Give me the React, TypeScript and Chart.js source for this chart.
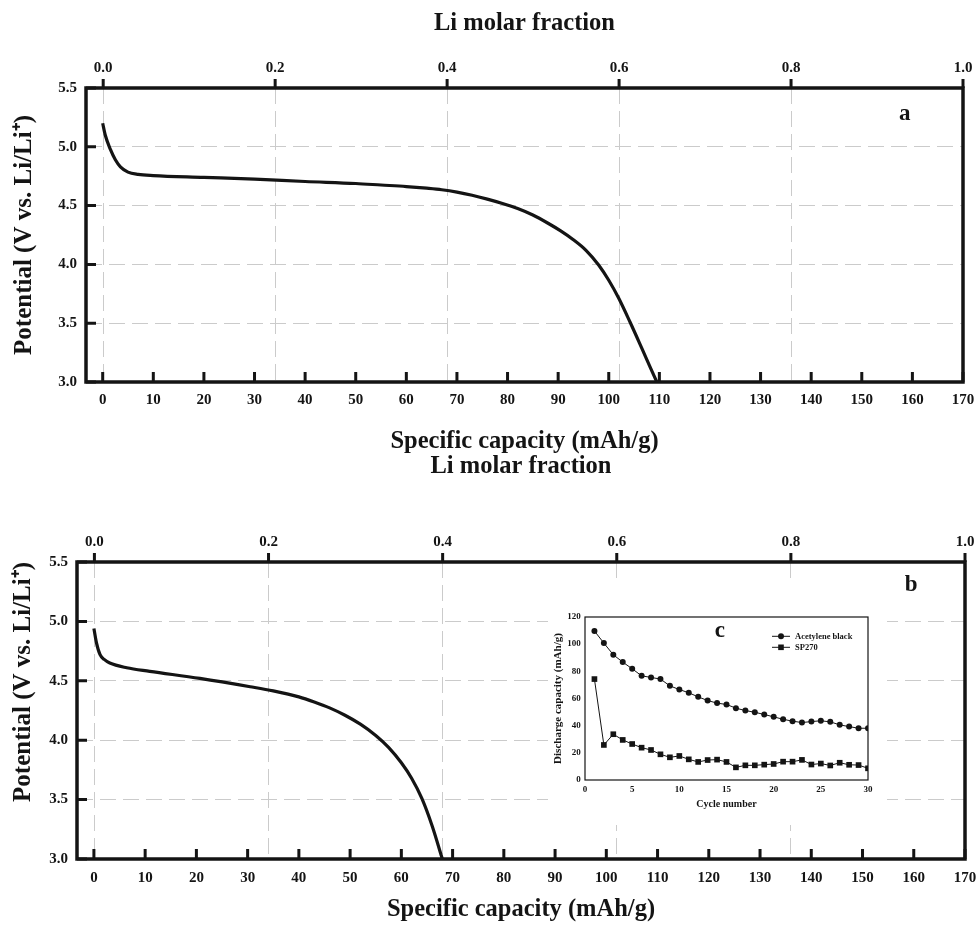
import React, { useEffect, useRef } from "react";
import { Chart, registerables } from "chart.js";

Chart.register(...registerables);

// ---------------- data ----------------
const capacityTicks = [0, 10, 20, 30, 40, 50, 60, 70, 80, 90, 100, 110, 120, 130, 140, 150, 160, 170];
const fractionTicks = [0, 0.2, 0.4, 0.6, 0.8, 1.0];
const potentialTicks = [3.0, 3.5, 4.0, 4.5, 5.0, 5.5];

// panel a : discharge curve
const capacityA = [0, 0.5, 1.5, 2.5, 3.5, 5, 7, 10, 20, 30, 40, 50, 55, 60, 64, 67, 70, 73, 76, 79, 82, 85, 88, 90.5, 93, 95.5, 98, 100, 102, 104.2, 106.5, 108.2, 109.5];
const potentialA = [5.2, 5.1, 4.98, 4.89, 4.83, 4.785, 4.765, 4.755, 4.74, 4.725, 4.705, 4.688, 4.675, 4.662, 4.648, 4.635, 4.615, 4.588, 4.555, 4.518, 4.475, 4.42, 4.35, 4.285, 4.21, 4.12, 3.995, 3.865, 3.71, 3.51, 3.29, 3.125, 3.0];

// panel b : discharge curve
const capacityB = [0, 0.5, 1.2, 2, 3.1, 6.4, 10.9, 20.7, 30.5, 35, 40, 43, 46, 49, 52, 55, 57.5, 60, 62, 64, 66, 68];
const potentialB = [4.94, 4.82, 4.72, 4.68, 4.65, 4.61, 4.58, 4.52, 4.45, 4.415, 4.365, 4.322, 4.272, 4.21, 4.135, 4.04, 3.94, 3.81, 3.68, 3.51, 3.28, 3.0];

// inset c : cycling
const cycleTicks = [0, 5, 10, 15, 20, 25, 30];
const dischargeTicks = [0, 20, 40, 60, 80, 100, 120];
const cycles = [1, 2, 3, 4, 5, 6, 7, 8, 9, 10, 11, 12, 13, 14, 15, 16, 17, 18, 19, 20, 21, 22, 23, 24, 25, 26, 27, 28, 29, 30];
const acetyleneBlack = [109.7, 100.8, 92.2, 86.8, 81.9, 76.7, 75.5, 74.3, 69.3, 66.6, 64.2, 61.2, 58.5, 56.6, 55.6, 52.9, 51.1, 49.9, 48.2, 46.5, 44.7, 43.3, 42.3, 43.0, 43.6, 42.8, 40.6, 39.3, 38.1, 38.1];
const sp270 = [74.3, 25.8, 33.7, 29.5, 26.5, 23.8, 22.1, 18.9, 16.7, 17.7, 15.2, 13.3, 14.7, 15.0, 13.3, 9.3, 10.8, 10.8, 11.3, 11.8, 13.5, 13.5, 14.8, 11.4, 12.1, 10.7, 12.7, 11.2, 11.0, 8.6];

// ---------------- styles ----------------
const SERIF = "'Liberation Serif', 'Times New Roman', Times, serif";
const INK = "#141414";
const GRID = "#cbcbcb";
const GRID_DASH = [16, 7];

const tickFont = { family: SERIF, size: 15, weight: "bold" as const };
const titleFont = { family: SERIF, size: 24.5, weight: "bold" as const };
const yTitleFont = { family: SERIF, size: 25, weight: "bold" as const };

const setTicks = (values: number[]) => (scale: any) => {
  scale.ticks = values.map((v) => ({ value: v }));
};

// frame, inward/outward ticks and panel letter
const decorPlugin = {
  id: "decor",
  afterDraw(chart: any, _args: any, opts: any) {
    const { ctx, chartArea } = chart;
    const { left, top, right, bottom } = chartArea;
    const bx = chart.scales.x;
    const tx = chart.scales.x2;
    const ly = chart.scales.y;
    ctx.save();
    ctx.strokeStyle = INK;
    ctx.lineCap = "butt";
    ctx.lineWidth = opts.tickWidth;
    ctx.beginPath();
    bx.ticks.forEach((t: any) => {
      const p = bx.getPixelForValue(t.value);
      ctx.moveTo(p, bottom);
      ctx.lineTo(p, bottom - opts.innerTick);
    });
    ly.ticks.forEach((t: any) => {
      const p = ly.getPixelForValue(t.value);
      ctx.moveTo(left, p);
      ctx.lineTo(left + opts.innerTick, p);
    });
    tx.ticks.forEach((t: any) => {
      const p = tx.getPixelForValue(t.value);
      ctx.moveTo(p, top);
      ctx.lineTo(p, top - opts.outerTick);
    });
    ctx.stroke();
    ctx.lineWidth = opts.frameWidth;
    ctx.lineJoin = "miter";
    ctx.strokeRect(left, top, right - left, bottom - top);
    ctx.fillStyle = INK;
    ctx.font = `bold ${opts.letterSize}px ${SERIF}`;
    ctx.textAlign = "center";
    ctx.textBaseline = "alphabetic";
    ctx.fillText(opts.letter, bx.getPixelForValue(opts.letterX), ly.getPixelForValue(opts.letterY));
    ctx.restore();
  },
};

const insetPlugin = {
  id: "insetDecor",
  afterDraw(chart: any, _args: any, opts: any) {
    const { ctx, chartArea } = chart;
    const { left, top, right, bottom } = chartArea;
    const xs = chart.scales.x;
    const ys = chart.scales.y;
    ctx.save();
    ctx.strokeStyle = INK;
    ctx.fillStyle = INK;
    ctx.lineWidth = opts.frameWidth;
    ctx.strokeRect(left, top, right - left, bottom - top);
    // legend
    chart.data.datasets.forEach((ds: any, i: number) => {
      const y = top + opts.legendTop + i * opts.legendRow;
      const x0 = right + opts.legendLineStart;
      const x1 = x0 + opts.legendLineLen;
      ctx.lineWidth = 1;
      ctx.beginPath();
      ctx.moveTo(x0, y);
      ctx.lineTo(x1, y);
      ctx.stroke();
      const cx = (x0 + x1) / 2;
      if (ds.pointStyle === "rect") {
        ctx.fillRect(cx - 2.8, y - 2.8, 5.6, 5.6);
      } else {
        ctx.beginPath();
        ctx.arc(cx, y, 3, 0, Math.PI * 2);
        ctx.fill();
      }
      ctx.font = `bold ${opts.legendSize}px ${SERIF}`;
      ctx.textAlign = "left";
      ctx.textBaseline = "middle";
      ctx.fillText(ds.label, x1 + opts.legendGap, y);
    });
    ctx.font = `bold ${opts.letterSize}px ${SERIF}`;
    ctx.textAlign = "center";
    ctx.textBaseline = "alphabetic";
    ctx.fillText(opts.letter, xs.getPixelForValue(opts.letterX), ys.getPixelForValue(opts.letterY));
    ctx.restore();
  },
};

type Panel = {
  height: number;
  yWidth: number;
  topHeight: number;
  bottomHeight: number;
  rightPad: number;
  topTickPad: number;
  bottomTickPad: number;
  topTitlePad: number;
  bottomTitlePad: number;
  yTitlePad: number;
  yTitleAlign: "center" | "end";
  letter: string;
  letterX: number;
  letterY: number;
};

function mainConfig(p: Panel, xs: number[], ys: number[]): any {
  return {
    type: "line",
    data: {
      datasets: [
        {
          data: xs.map((x, i) => ({ x, y: ys[i] })),
          borderColor: INK,
          borderWidth: 3.2,
          pointRadius: 0,
          fill: false,
          cubicInterpolationMode: "monotone",
          xAxisID: "x",
          yAxisID: "y",
        },
      ],
    },
    options: {
      responsive: false,
      animation: false,
      devicePixelRatio: 1,
      events: [],
      layout: { padding: { left: 0, top: 0, bottom: 0, right: p.rightPad } },
      plugins: {
        legend: { display: false },
        tooltip: { enabled: false },
        decor: {
          tickWidth: 3,
          innerTick: 10,
          outerTick: 9,
          frameWidth: 3.5,
          letter: p.letter,
          letterX: p.letterX,
          letterY: p.letterY,
          letterSize: 23,
        },
      },
      scales: {
        x: {
          type: "linear",
          position: "bottom",
          min: -3.3,
          max: 170,
          afterBuildTicks: setTicks(capacityTicks),
          afterFit: (s: any) => {
            s.height = p.bottomHeight;
            s.paddingLeft = 0;
            s.paddingRight = 0;
          },
          grid: { display: false, drawTicks: false },
          border: { display: false },
          ticks: {
            color: INK,
            font: tickFont,
            padding: p.bottomTickPad,
            autoSkip: false,
            maxRotation: 0,
            callback: (v: any) => String(v),
          },
          title: {
            display: true,
            text: "Specific capacity (mAh/g)",
            color: INK,
            font: titleFont,
            padding: { top: 0, bottom: p.bottomTitlePad },
          },
        },
        x2: {
          type: "linear",
          position: "top",
          min: -0.02,
          max: 1,
          afterBuildTicks: setTicks(fractionTicks),
          afterFit: (s: any) => {
            s.height = p.topHeight;
            s.paddingLeft = 0;
            s.paddingRight = 0;
          },
          grid: { display: true, drawOnChartArea: true, drawTicks: false, color: GRID, lineWidth: 1 },
          border: { display: false, dash: GRID_DASH },
          ticks: {
            color: INK,
            font: tickFont,
            padding: p.topTickPad,
            autoSkip: false,
            maxRotation: 0,
            callback: (v: any) => Number(v).toFixed(1),
          },
          title: {
            display: true,
            text: "Li molar fraction",
            color: INK,
            font: titleFont,
            padding: { top: p.topTitlePad, bottom: 0 },
          },
        },
        y: {
          type: "linear",
          position: "left",
          min: 3,
          max: 5.5,
          afterBuildTicks: setTicks(potentialTicks),
          afterFit: (s: any) => {
            s.width = p.yWidth;
            s.paddingTop = 0;
            s.paddingBottom = 0;
          },
          grid: { display: true, drawTicks: false, color: GRID, lineWidth: 1 },
          border: { display: false, dash: GRID_DASH },
          ticks: {
            color: INK,
            font: tickFont,
            padding: 9,
            autoSkip: false,
            callback: (v: any) => Number(v).toFixed(1),
          },
          title: {
            display: true,
            text: "Potential (V vs. Li/Li\u207A)",
            color: INK,
            font: yTitleFont,
            align: p.yTitleAlign,
            padding: { top: p.yTitlePad, bottom: 0 },
          },
        },
      },
    },
    plugins: [decorPlugin],
  };
}

function insetConfig(): any {
  const small = { family: SERIF, size: 9, weight: "bold" as const };
  return {
    type: "line",
    data: {
      datasets: [
        {
          label: "Acetylene black",
          data: cycles.map((c, i) => ({ x: c, y: acetyleneBlack[i] })),
          borderColor: INK,
          backgroundColor: INK,
          borderWidth: 1,
          pointStyle: "circle",
          pointRadius: 3,
          pointBorderWidth: 0,
        },
        {
          label: "SP270",
          data: cycles.map((c, i) => ({ x: c, y: sp270[i] })),
          borderColor: INK,
          backgroundColor: INK,
          borderWidth: 1,
          pointStyle: "rect",
          pointRadius: 4,
          pointBorderWidth: 0,
        },
      ],
    },
    options: {
      responsive: false,
      animation: false,
      devicePixelRatio: 1,
      events: [],
      layout: { padding: { left: 0, top: 32, bottom: 0, right: 19 } },
      plugins: {
        legend: { display: false },
        tooltip: { enabled: false },
        insetDecor: {
          frameWidth: 1.2,
          legendTop: 19.3,
          legendRow: 11,
          legendLineStart: -96,
          legendLineLen: 18,
          legendGap: 5,
          legendSize: 8.5,
          letter: "c",
          letterX: 14.3,
          letterY: 105.5,
          letterSize: 23,
        },
      },
      scales: {
        x: {
          type: "linear",
          min: 0,
          max: 30,
          afterBuildTicks: setTicks(cycleTicks),
          afterFit: (s: any) => {
            s.height = 45;
          },
          grid: { display: false, drawTicks: false },
          border: { display: false },
          ticks: { color: INK, font: small, padding: 4.3, autoSkip: false, maxRotation: 0 },
          title: {
            display: true,
            text: "Cycle number",
            color: INK,
            font: { family: SERIF, size: 10, weight: "bold" },
            padding: { top: 0, bottom: 14.4 },
          },
        },
        y: {
          type: "linear",
          min: 0,
          max: 120,
          afterBuildTicks: setTicks(dischargeTicks),
          afterFit: (s: any) => {
            s.width = 37;
          },
          grid: { display: false, drawTicks: false },
          border: { display: false },
          ticks: { color: INK, font: small, padding: 4.3, autoSkip: false },
          title: {
            display: true,
            text: "Discharge capacity (mAh/g)",
            color: INK,
            font: { family: SERIF, size: 11, weight: "bold" },
            padding: { top: 3.4, bottom: 0 },
          },
        },
      },
    },
    plugins: [insetPlugin],
  };
}

function ChartCanvas(props: { make: () => any; left: number; top: number; width: number; height: number; bg?: string }) {
  const ref = useRef<HTMLCanvasElement>(null);
  useEffect(() => {
    const chart = new Chart(ref.current as HTMLCanvasElement, props.make());
    return () => chart.destroy();
  }, []);
  return (
    <canvas
      ref={ref}
      width={props.width}
      height={props.height}
      style={{
        position: "absolute",
        left: props.left,
        top: props.top,
        width: props.width,
        height: props.height,
        background: props.bg || "transparent",
      }}
    />
  );
}

const panelA: Panel = {
  height: 470,
  yWidth: 86,
  topHeight: 88,
  bottomHeight: 88,
  rightPad: 14,
  topTickPad: 10.7,
  bottomTickPad: 9,
  topTitlePad: 8.7,
  bottomTitlePad: 13.6,
  yTitlePad: 9.8,
  yTitleAlign: "center",
  letter: "a",
  letterX: 158.5,
  letterY: 5.228,
};

const panelB: Panel = {
  height: 491,
  yWidth: 77,
  topHeight: 122,
  bottomHeight: 72,
  rightPad: 12,
  topTickPad: 11.3,
  bottomTickPad: 10,
  topTitlePad: 12.3,
  bottomTitlePad: 6.3,
  yTitlePad: 8.2,
  yTitleAlign: "end",
  letter: "b",
  letterX: 159.5,
  letterY: 5.258,
};

export default function App() {
  return (
    <div style={{ position: "absolute", left: 0, top: 0, width: 977, height: 931, background: "#fff" }}>
      <ChartCanvas make={() => mainConfig(panelA, capacityA, potentialA)} left={0} top={0} width={977} height={panelA.height} />
      <ChartCanvas make={() => mainConfig(panelB, capacityB, potentialB)} left={0} top={440} width={977} height={panelB.height} />
      <ChartCanvas make={insetConfig} left={548} top={585} width={339} height={240} bg="#ffffff" />
    </div>
  );
}
